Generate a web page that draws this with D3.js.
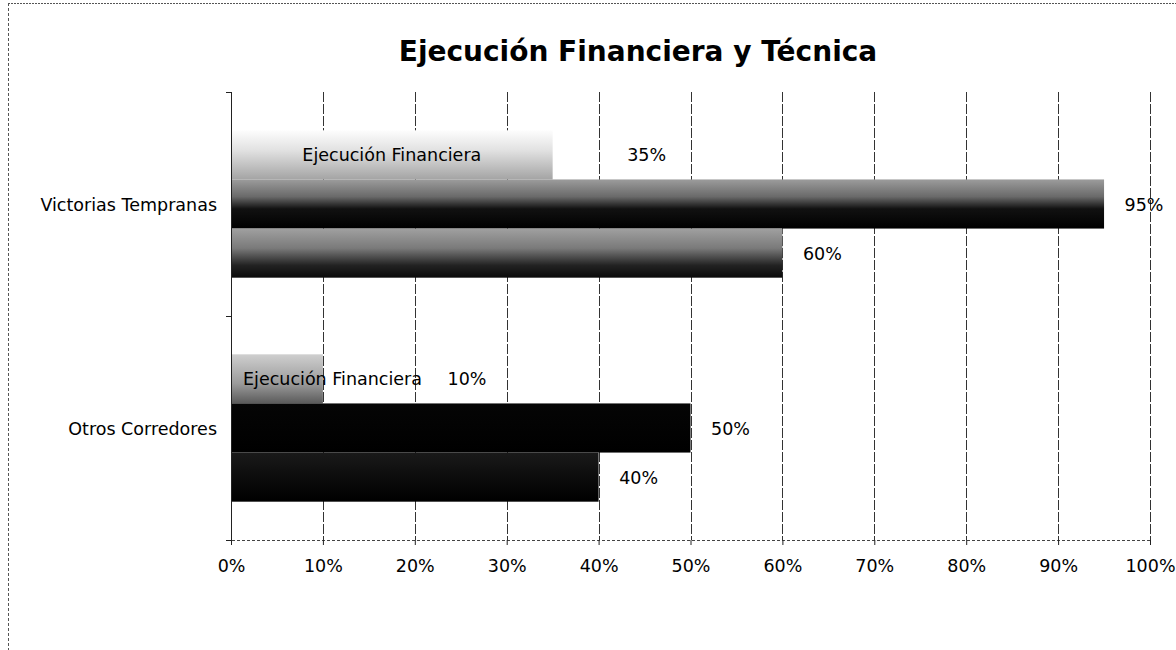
<!DOCTYPE html>
<html><head><meta charset="utf-8">
<script src="https://cdn.jsdelivr.net/npm/d3@7"></script>
<style>body{margin:0;background:#fff}svg{display:block}text{font-family:"DejaVu Sans",Verdana,sans-serif;fill:#000}</style>
</head><body><svg id="c" width="1176" height="650"></svg>
<script>
const categories = ["Victorias Tempranas", "Otros Corredores"];
const seriesNames = ["Ejecución Financiera", "Ejecución Técnica", "Ejecución Física"];
const victoriasValues = [0.35, 0.95, 0.60];
const otrosValues = [0.10, 0.50, 0.40];
const tickValues = [0,0.1,0.2,0.3,0.4,0.5,0.6,0.7,0.8,0.9,1.0];
const title = "Ejecución Financiera y Técnica";

const values = [victoriasValues, otrosValues];
const svg = d3.select("#c");
const W = 1176, H = 650;
const FS = "17.5px";
const m = {left: 231, right: 26, top: 92, bottom: 110};
const x = d3.scaleLinear().domain([0,1]).range([m.left, W - m.right]);
const y0 = d3.scaleBand().domain(categories).range([m.top, H - m.bottom]).paddingInner(0).paddingOuter(0);
const y1 = d3.scaleBand().domain(d3.range(seriesNames.length)).range([0, y0.bandwidth()]).paddingOuter(0.78).paddingInner(0);

// gradients (style)
const defs = svg.append("defs");
const grads = [
  [[["0%","#fdfdfd"],["40%","#e2e2e2"],["100%","#a4a4a4"]],
   [["0%","#9c9c9c"],["35%","#6a6a6a"],["60%","#111"],["100%","#000"]],
   [["0%","#a0a0a0"],["40%","#7a7a7a"],["75%","#222"],["100%","#0a0a0a"]]],
  [[["0%","#cfcfcf"],["60%","#9a9a9a"],["100%","#5a5a5a"]],
   [["0%","#050505"],["100%","#000"]],
   [["0%","#1a1a1a"],["50%","#0c0c0c"],["100%","#000"]]]
];
grads.forEach((row, ci) => row.forEach((stops, si) => {
  const g = defs.append("linearGradient").attr("id", `g${ci}${si}`).attr("x1",0).attr("y1",0).attr("x2",0).attr("y2",1);
  stops.forEach(s => g.append("stop").attr("offset", s[0]).attr("stop-color", s[1]));
}));

// outer border (top & left, dotted as in scan)
svg.append("line").attr("x1",8).attr("x2",W).attr("y1",3.5).attr("y2",3.5).attr("stroke","#555").attr("stroke-dasharray","2,1");
svg.append("line").attr("x1",8.5).attr("x2",8.5).attr("y1",3).attr("y2",H).attr("stroke","#555").attr("stroke-dasharray","3,2");

// title
svg.append("text").attr("x", 638).attr("y", 61).attr("text-anchor","middle")
  .style("font-weight","bold").style("font-size","28px").text(title);

// vertical gridlines
svg.append("g").selectAll("line").data(tickValues.slice(1)).join("line")
  .attr("x1", d => Math.round(x(d))+0.5).attr("x2", d => Math.round(x(d))+0.5)
  .attr("y1", m.top).attr("y2", H - m.bottom)
  .attr("stroke","#333").attr("stroke-width",1).attr("stroke-dasharray","10,2");

// bars
const gCat = svg.append("g").selectAll("g").data(categories).join("g")
  .attr("transform", d => `translate(0,${y0(d)})`);
gCat.each(function(cat, ci) {
  const g = d3.select(this);
  g.selectAll("rect").data(values[ci]).join("rect")
    .attr("x", x(0)).attr("y", (d,i) => y1(i))
    .attr("width", d => x(d) - x(0)).attr("height", y1.bandwidth())
    .attr("fill", (d,i) => `url(#g${ci}${i})`);
  // series name label inside first bar
  const nameT = g.append("text").attr("y", y1(0) + y1.bandwidth()/2 + 6.5)
    .attr("text-anchor","middle").style("font-size",FS).text(seriesNames[0]);
  const w = nameT.node().getComputedTextLength();
  const nameX = Math.max((x(0) + x(values[ci][0]))/2, x(0) + 12 + w/2);
  nameT.attr("x", nameX);
  const nameEnd = nameX + w/2;
  // value labels
  g.selectAll("text.v").data(values[ci]).join("text").attr("class","v")
    .attr("x", (d,i) => i === 0 ? Math.max(x(d) + 94, nameEnd + 45) : x(d) + 40)
    .attr("y", (d,i) => y1(i) + y1.bandwidth()/2 + 6.5)
    .attr("text-anchor","middle").style("font-size",FS)
    .text(d => d3.format(".0%")(d));
});

// left axis line with ticks
const left = svg.append("g");
left.append("line").attr("x1", m.left+0.5).attr("x2", m.left+0.5).attr("y1", m.top).attr("y2", H-m.bottom).attr("stroke","#222");
const sepYs = [m.top, y0(categories[1]), H - m.bottom];
left.selectAll("line.t").data(sepYs).join("line").attr("class","t")
  .attr("x1", m.left-5).attr("x2", m.left).attr("y1", d=>d+0.5).attr("y2", d=>d+0.5).attr("stroke","#222");
left.selectAll("text").data(categories).join("text")
  .attr("x", m.left - 14).attr("y", d => y0(d) + y0.bandwidth()/2 + 6.5)
  .attr("text-anchor","end").style("font-size",FS).text(d => d);

// bottom axis
const xAxis = d3.axisBottom(x).tickValues(tickValues).tickFormat(d3.format(".0%")).tickSize(5).tickPadding(15);
const ax = svg.append("g").attr("transform", `translate(0,${H - m.bottom})`).call(xAxis);
ax.select(".domain").attr("stroke","#444").attr("stroke-dasharray","3,2");
ax.selectAll(".tick line").attr("stroke","#222");
ax.selectAll(".tick text").style("font-size",FS).style("font-family","DejaVu Sans, sans-serif").attr("fill","#000");
</script></body></html>
